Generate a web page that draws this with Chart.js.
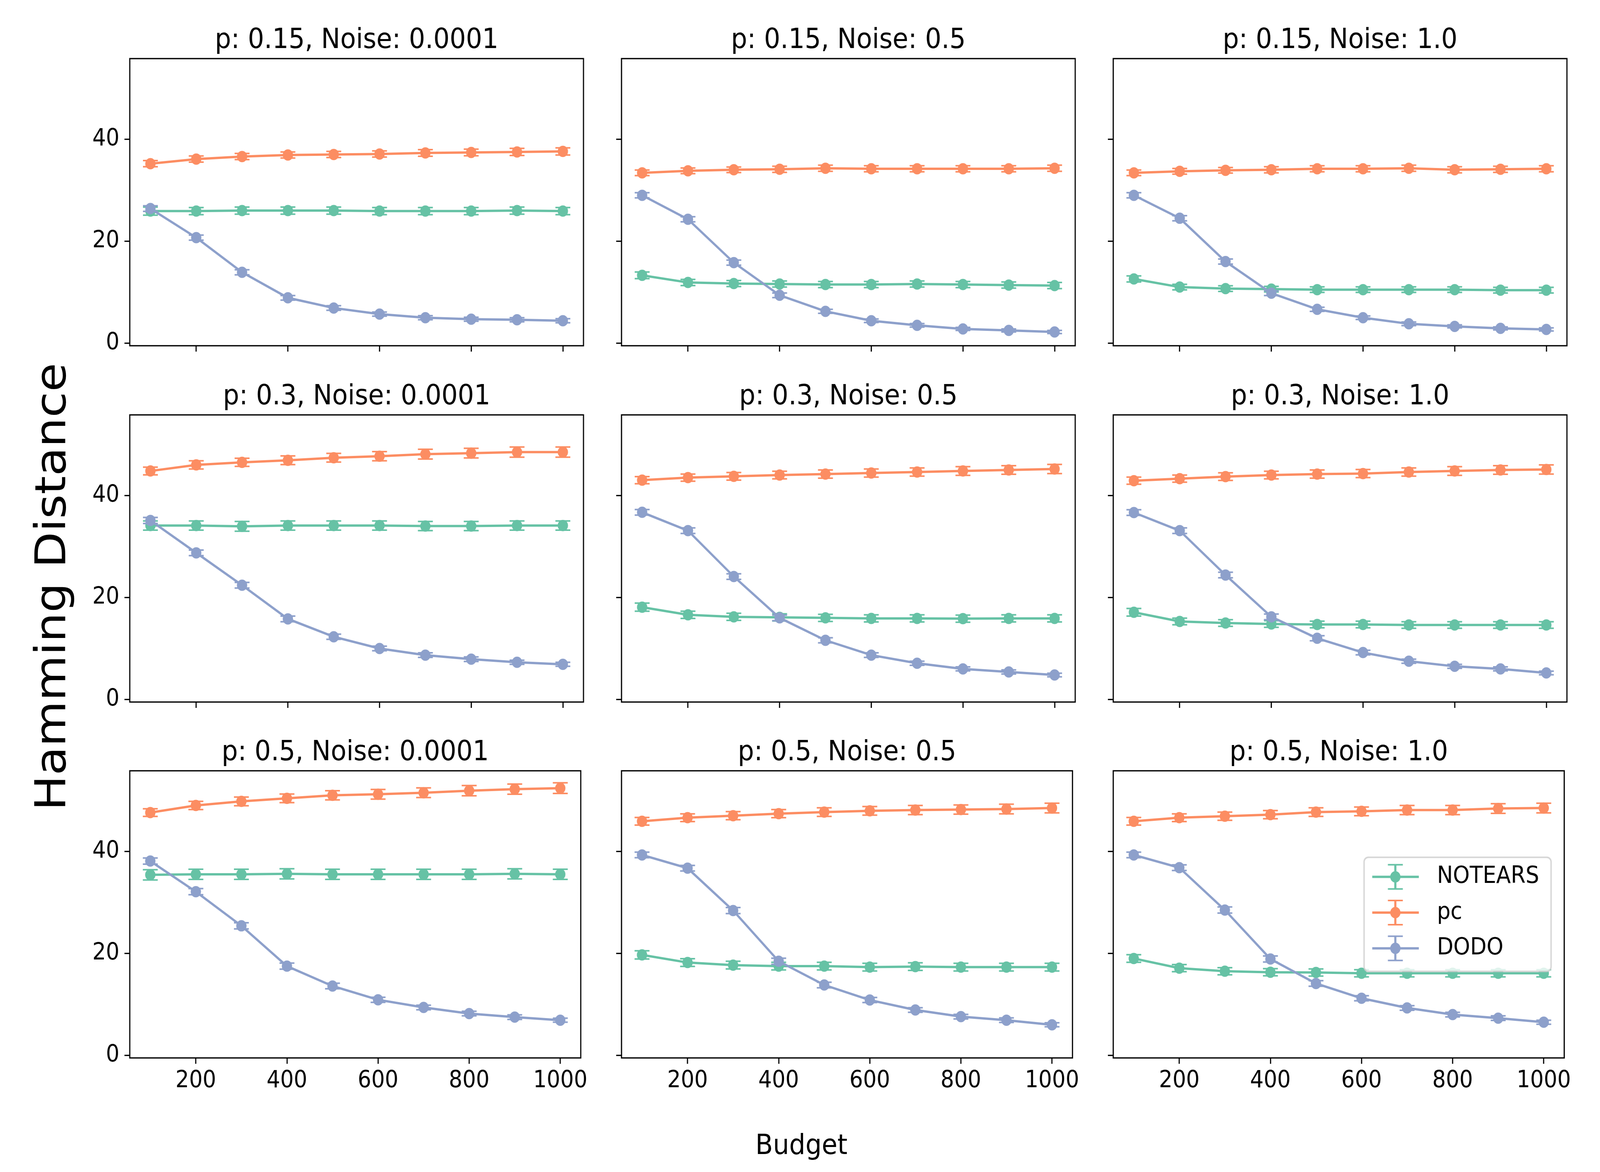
<!DOCTYPE html>
<html>
<head>
<meta charset="utf-8">
<script src="https://cdn.jsdelivr.net/npm/chart.js@4.4.1/dist/chart.umd.min.js"></script>
<style>
  html, body { margin: 0; padding: 0; background: #fff; overflow: hidden; }
  #wrap { position: relative; overflow: hidden; }
  #fig { position: absolute; left: 0; top: 0; width: 4500px; height: 3000px; overflow: hidden; font-family: "DejaVu Sans", sans-serif; transform-origin: 0 0; }
  canvas { position: absolute; }
  .supLabel { position: absolute; white-space: nowrap; line-height: 1; color: #000; }
</style>
</head>
<body>
<div id="wrap">
<div id="fig">
  <div class="supLabel" id="ylab" style="font-size:120px; left:143px; top:1502px; transform: translate(-50%, -50%) rotate(-90deg);">Hamming Distance</div>
  <div class="supLabel" id="xlab" style="font-size:72px; left:2254px; top:2929px; transform: translate(-50%, -50%);">Budget</div>
</div>
</div>
<script>
const budgets = [100, 200, 300, 400, 500, 600, 700, 800, 900, 1000];
const pValues = ['0.15', '0.3', '0.5'];
const noiseValues = ['0.0001', '0.5', '1.0'];
const methods = ['NOTEARS', 'pc', 'DODO'];
const yTicks = [0, 20, 40];
const xTicks = [200, 400, 600, 800, 1000];

// one row per panel, row-major (p down, noise across)
const notearsMean = [
  [25.9, 25.9, 26.0, 26.0, 26.0, 25.9, 25.9, 25.9, 26.0, 25.9],
  [13.3, 11.9, 11.7, 11.6, 11.5, 11.5, 11.6, 11.5, 11.4, 11.3],
  [12.6, 11.0, 10.7, 10.6, 10.5, 10.5, 10.5, 10.5, 10.4, 10.4],
  [34.1, 34.1, 33.95, 34.1, 34.1, 34.1, 34.0, 34.0, 34.1, 34.1],
  [18.1, 16.6, 16.2, 16.1, 16.0, 15.9, 15.9, 15.85, 15.9, 15.9],
  [17.1, 15.3, 15.0, 14.8, 14.7, 14.7, 14.6, 14.6, 14.6, 14.6],
  [35.4, 35.5, 35.5, 35.6, 35.5, 35.5, 35.5, 35.5, 35.6, 35.5],
  [19.7, 18.2, 17.7, 17.5, 17.5, 17.3, 17.4, 17.3, 17.3, 17.3],
  [19.0, 17.1, 16.5, 16.3, 16.25, 16.1, 16.1, 16.1, 16.1, 16.1]
];
const pcMean = [
  [35.2, 36.1, 36.6, 36.9, 37.0, 37.1, 37.3, 37.4, 37.5, 37.6],
  [33.4, 33.8, 34.0, 34.1, 34.3, 34.2, 34.2, 34.2, 34.2, 34.3],
  [33.4, 33.7, 33.9, 34.0, 34.2, 34.2, 34.3, 34.0, 34.1, 34.2],
  [44.8, 46.0, 46.5, 46.9, 47.4, 47.7, 48.1, 48.3, 48.5, 48.5],
  [43.0, 43.5, 43.75, 44.0, 44.2, 44.4, 44.6, 44.8, 45.0, 45.2],
  [42.9, 43.3, 43.7, 44.0, 44.2, 44.3, 44.6, 44.8, 45.0, 45.1],
  [47.6, 49.0, 49.8, 50.4, 51.0, 51.2, 51.5, 51.9, 52.2, 52.4],
  [45.9, 46.6, 47.0, 47.4, 47.7, 47.95, 48.1, 48.2, 48.3, 48.5],
  [45.9, 46.6, 46.9, 47.2, 47.7, 47.85, 48.1, 48.1, 48.4, 48.5]
];
const dodoMean = [
  [26.4, 20.7, 13.9, 8.9, 6.9, 5.7, 5.0, 4.7, 4.6, 4.4],
  [29.0, 24.3, 15.8, 9.4, 6.25, 4.4, 3.5, 2.8, 2.5, 2.2],
  [29.0, 24.5, 16.0, 9.8, 6.65, 5.0, 3.8, 3.3, 2.9, 2.7],
  [35.1, 28.75, 22.4, 15.8, 12.3, 10.0, 8.7, 7.9, 7.3, 6.9],
  [36.7, 33.1, 24.1, 16.0, 11.6, 8.7, 7.1, 6.0, 5.4, 4.8],
  [36.65, 33.1, 24.4, 16.2, 12.0, 9.2, 7.5, 6.5, 6.0, 5.2],
  [38.1, 32.1, 25.4, 17.5, 13.6, 10.9, 9.4, 8.2, 7.5, 6.9],
  [39.3, 36.7, 28.4, 18.45, 13.8, 10.85, 8.9, 7.6, 6.9, 6.0],
  [39.3, 36.8, 28.5, 18.9, 14.1, 11.2, 9.3, 8.0, 7.3, 6.5]
];

const notearsErr = [
  [0.8, 0.7, 0.7, 0.7, 0.7, 0.7, 0.7, 0.7, 0.7, 0.7],
  [0.65, 0.6, 0.6, 0.6, 0.6, 0.6, 0.6, 0.6, 0.6, 0.6],
  [0.6, 0.55, 0.55, 0.55, 0.55, 0.55, 0.55, 0.55, 0.55, 0.55],
  [0.9, 0.9, 0.95, 0.9, 0.9, 0.9, 0.9, 0.9, 0.9, 0.9],
  [0.8, 0.7, 0.7, 0.7, 0.7, 0.7, 0.7, 0.7, 0.7, 0.7],
  [0.75, 0.65, 0.65, 0.65, 0.65, 0.65, 0.65, 0.65, 0.65, 0.65],
  [1.0, 1.0, 1.0, 1.0, 1.0, 1.0, 1.0, 1.0, 1.0, 1.0],
  [0.8, 0.75, 0.75, 0.75, 0.75, 0.75, 0.75, 0.75, 0.75, 0.75],
  [0.75, 0.7, 0.7, 0.7, 0.7, 0.7, 0.7, 0.7, 0.7, 0.7]
];
const pcErr = [
  [0.6, 0.6, 0.6, 0.6, 0.6, 0.6, 0.65, 0.65, 0.7, 0.7],
  [0.55, 0.55, 0.55, 0.6, 0.6, 0.6, 0.6, 0.6, 0.6, 0.6],
  [0.55, 0.55, 0.55, 0.6, 0.6, 0.6, 0.6, 0.6, 0.6, 0.6],
  [0.75, 0.8, 0.8, 0.85, 0.85, 0.9, 0.95, 0.95, 1.0, 1.0],
  [0.7, 0.7, 0.75, 0.75, 0.8, 0.8, 0.8, 0.85, 0.85, 0.9],
  [0.7, 0.7, 0.75, 0.75, 0.8, 0.8, 0.8, 0.85, 0.85, 0.9],
  [0.75, 0.8, 0.85, 0.85, 0.9, 0.95, 0.95, 1.0, 1.0, 1.05],
  [0.75, 0.75, 0.8, 0.8, 0.85, 0.85, 0.9, 0.9, 0.95, 0.95],
  [0.75, 0.75, 0.8, 0.8, 0.85, 0.85, 0.9, 0.9, 0.95, 0.95]
];
const dodoErr = [
  [0.55, 0.5, 0.5, 0.45, 0.45, 0.4, 0.4, 0.4, 0.4, 0.4],
  [0.5, 0.5, 0.5, 0.45, 0.4, 0.35, 0.35, 0.3, 0.3, 0.3],
  [0.5, 0.5, 0.5, 0.45, 0.4, 0.35, 0.35, 0.3, 0.3, 0.3],
  [0.6, 0.55, 0.55, 0.55, 0.5, 0.45, 0.45, 0.45, 0.4, 0.4],
  [0.55, 0.55, 0.55, 0.55, 0.5, 0.45, 0.4, 0.4, 0.4, 0.35],
  [0.55, 0.55, 0.55, 0.55, 0.5, 0.45, 0.4, 0.4, 0.4, 0.35],
  [0.6, 0.6, 0.6, 0.6, 0.55, 0.5, 0.45, 0.45, 0.45, 0.4],
  [0.55, 0.55, 0.6, 0.6, 0.55, 0.5, 0.45, 0.45, 0.45, 0.4],
  [0.55, 0.55, 0.6, 0.6, 0.55, 0.5, 0.45, 0.45, 0.45, 0.4]
];

const colors = ['#66c2a5', '#fc8d62', '#8da0cb'];

// figure geometry (pixels) for the axes boxes
const axLeft = [365, 1748, 3131];
const axTop = [150, 1062, 1973];
const axW = 1276, axH = 735;
const padL = 200, padT = 130, padR = 20, padB = 100;
const FONT = '"DejaVu Sans", sans-serif';

// the window is capped narrower than 4500 css px, so stretch the 4500x3000 figure onto it
const wrap = document.getElementById('wrap');
const fig = document.getElementById('fig');
const sx = window.innerWidth / 4500, sy = window.innerHeight / 3000;
wrap.style.width = window.innerWidth + 'px';
wrap.style.height = window.innerHeight + 'px';
fig.style.transform = 'scale(' + sx + ',' + sy + ')';

// error bars, drawn just before each dataset's line and markers
const errorBarPlugin = {
  id: 'errorBars',
  beforeDatasetDraw(chart, args) {
    const ds = chart.data.datasets[args.index];
    const xs = chart.scales.x, ys = chart.scales.y;
    const ctx = chart.ctx;
    ctx.save();
    ctx.strokeStyle = ds.borderColor;
    ds.data.forEach((pt, i) => {
      const e = ds.errors[i];
      const px = xs.getPixelForValue(pt.x);
      const y1 = ys.getPixelForValue(pt.y - e);
      const y2 = ys.getPixelForValue(pt.y + e);
      ctx.lineWidth = 6;
      ctx.beginPath();
      ctx.moveTo(px, y1); ctx.lineTo(px, y2);
      ctx.stroke();
      ctx.lineWidth = 4;
      ctx.beginPath();
      ctx.moveTo(px - 21, y1); ctx.lineTo(px + 21, y1);
      ctx.moveTo(px - 21, y2); ctx.lineTo(px + 21, y2);
      ctx.stroke();
    });
    ctx.restore();
  }
};

// axes frame, panel title and (for the last panel) the legend
const framePlugin = {
  id: 'frame',
  afterDraw(chart, args, opts) {
    const ctx = chart.ctx;
    const a = chart.chartArea;
    ctx.save();
    ctx.strokeStyle = '#000';
    ctx.lineWidth = 3.3;
    ctx.strokeRect(a.left, a.top, a.right - a.left, a.bottom - a.top);

    ctx.fillStyle = '#000';
    ctx.font = '72px ' + FONT;
    ctx.textAlign = 'center';
    ctx.textBaseline = 'alphabetic';
    ctx.fillText(opts.title, (a.left + a.right) / 2, a.top - 27);

    if (opts.legend) {
      const bw = 526, bh = 292;
      const bx = a.right - 37 - bw;
      const by = (a.top + a.bottom) / 2 - bh / 2;
      ctx.beginPath();
      ctx.roundRect(bx, by, bw, bh, 12);
      ctx.fillStyle = 'rgba(255,255,255,0.8)';
      ctx.fill();
      ctx.strokeStyle = 'rgba(204,204,204,0.8)';
      ctx.lineWidth = 4;
      ctx.stroke();
      methods.forEach((m, k) => {
        const cy = by + 50 + k * 91.5;
        const cx = bx + 88;
        ctx.strokeStyle = colors[k];
        ctx.fillStyle = colors[k];
        ctx.lineWidth = 6;
        ctx.beginPath();
        ctx.moveTo(bx + 23, cy); ctx.lineTo(bx + 154, cy);
        ctx.moveTo(cx, cy - 31); ctx.lineTo(cx, cy + 31);
        ctx.stroke();
        ctx.lineWidth = 4;
        ctx.beginPath();
        ctx.moveTo(cx - 21, cy - 31); ctx.lineTo(cx + 21, cy - 31);
        ctx.moveTo(cx - 21, cy + 31); ctx.lineTo(cx + 21, cy + 31);
        ctx.stroke();
        ctx.beginPath();
        ctx.arc(cx, cy, 14.5, 0, Math.PI * 2);
        ctx.fill();
        ctx.fillStyle = '#000';
        ctx.font = '60px ' + FONT;
        ctx.textAlign = 'left';
        ctx.textBaseline = 'middle';
        ctx.fillText(m, bx + 205, cy);
      });
    }
    ctx.restore();
  }
};

const means = [notearsMean, pcMean, dodoMean];
const errs = [notearsErr, pcErr, dodoErr];

for (let r = 0; r < 3; r++) {
  for (let c = 0; c < 3; c++) {
    const panel = r * 3 + c;
    const canvas = document.createElement('canvas');
    const cw = axW + padL + padR, chh = axH + padT + padB;
    canvas.width = cw; canvas.height = chh;
    canvas.style.width = cw + 'px'; canvas.style.height = chh + 'px';
    canvas.style.left = (axLeft[c] - padL) + 'px';
    canvas.style.top = (axTop[r] - padT) + 'px';
    fig.appendChild(canvas);

    const datasets = methods.map((m, k) => ({
      label: m,
      data: budgets.map((b, i) => ({ x: b, y: means[k][panel][i] })),
      errors: errs[k][panel],
      borderColor: colors[k],
      backgroundColor: colors[k],
      borderWidth: 6,
      pointRadius: 14.5,
      pointHoverRadius: 14.5,
      pointBorderWidth: 0,
      pointBackgroundColor: colors[k],
      tension: 0,
      order: 2 - k
    }));

    new Chart(canvas.getContext('2d'), {
      type: 'line',
      data: { datasets },
      plugins: [errorBarPlugin, framePlugin],
      options: {
        responsive: false,
        animation: false,
        events: [],
        layout: { padding: { left: 0, top: padT, right: padR, bottom: 0 } },
        plugins: {
          legend: { display: false },
          tooltip: { enabled: false },
          frame: { title: 'p: ' + pValues[r] + ', Noise: ' + noiseValues[c], legend: panel === 8 }
        },
        scales: {
          x: {
            type: 'linear',
            min: 55, max: 1045,
            afterFit: (s) => { s.height = padB; },
            afterBuildTicks: (s) => { s.ticks = xTicks.map(v => ({ value: v })); },
            border: { display: false },
            grid: { display: true, drawOnChartArea: false, drawTicks: true, tickLength: 15, tickWidth: 3.3, tickColor: '#000' },
            ticks: {
              display: r === 2,
              maxRotation: 0,
              autoSkip: false,
              padding: 8,
              color: '#000',
              font: { family: FONT, size: 60 },
              callback: (v) => String(v)
            }
          },
          y: {
            type: 'linear',
            min: -0.5, max: 55.8,
            afterFit: (s) => { s.width = padL; },
            afterBuildTicks: (s) => { s.ticks = yTicks.map(v => ({ value: v })); },
            border: { display: false },
            grid: { display: true, drawOnChartArea: false, drawTicks: true, tickLength: 15, tickWidth: 3.3, tickColor: '#000' },
            ticks: {
              padding: 14,
              color: '#000',
              font: { family: FONT, size: 60 },
              callback: (v) => (c === 0 ? String(v) : '')
            }
          }
        }
      }
    });
  }
}
</script>
</body>
</html>
